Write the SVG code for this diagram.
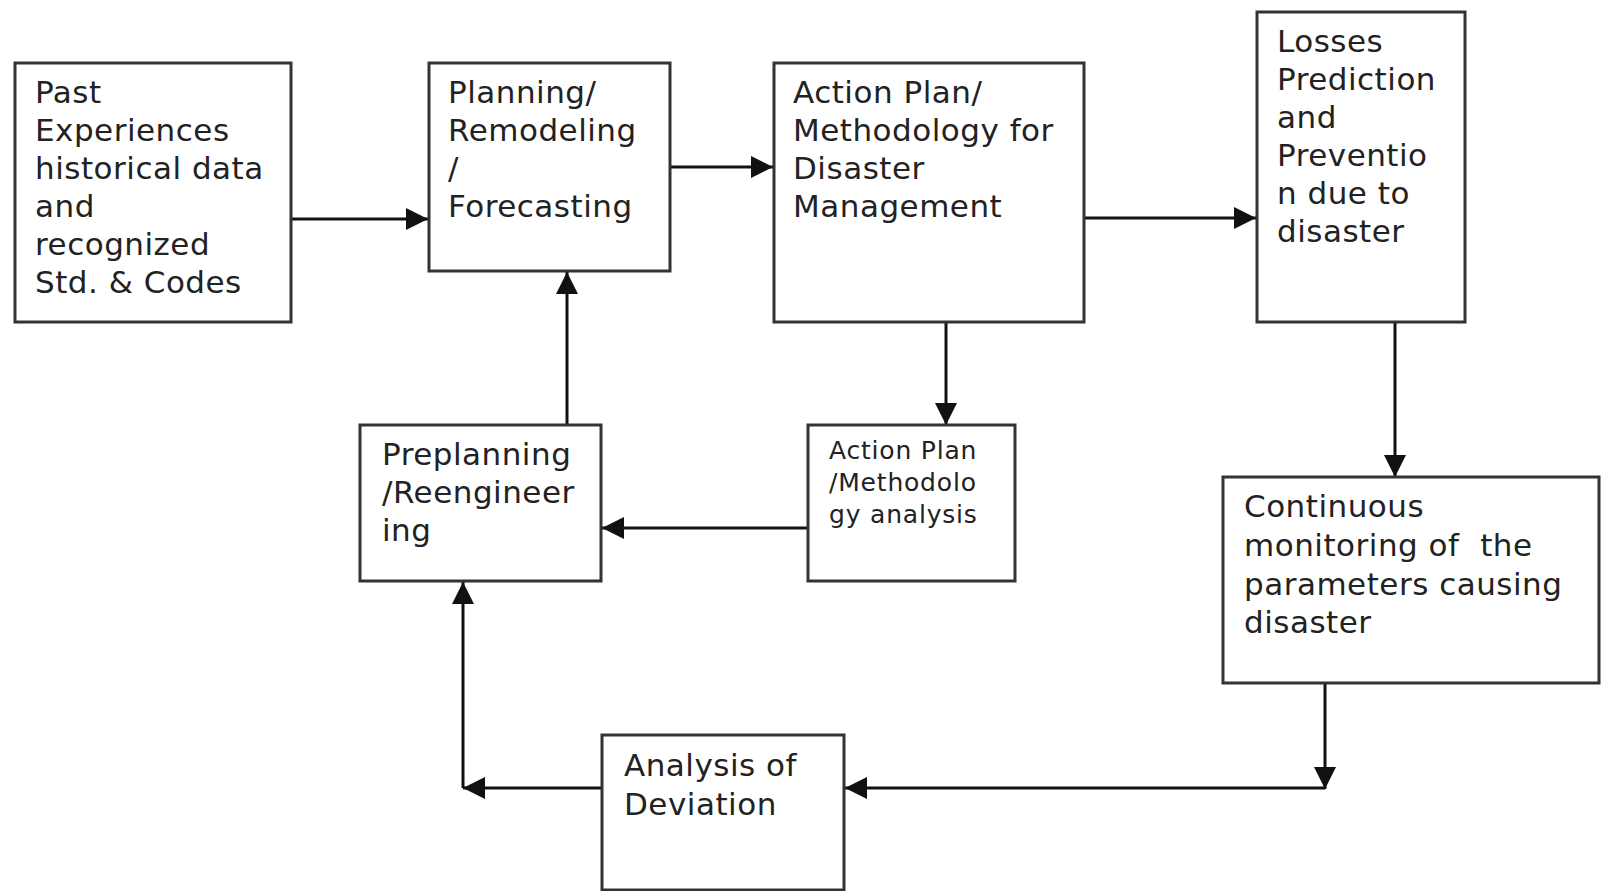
<svg xmlns="http://www.w3.org/2000/svg" width="1601" height="891" viewBox="0 0 1601 891">
<style>
.box{fill:#fff;stroke:#333;stroke-width:3}
.t{font-family:"DejaVu Sans",Verdana,sans-serif;font-size:31px;letter-spacing:0.5px;fill:#222}
.s{font-family:"DejaVu Sans",Verdana,sans-serif;font-size:25px;letter-spacing:0.8px;fill:#222}
.c{fill:none;stroke:#111;stroke-width:3}
</style>
<defs>
<marker id="ah" markerUnits="userSpaceOnUse" markerWidth="22" markerHeight="22" refX="22" refY="11" orient="auto" viewBox="0 0 22 22">
<path d="M0,0 L22,11 L0,22 z" fill="#111"/>
</marker>
</defs>
<rect width="1601" height="891" fill="#fff"/>
<g id="connectors">
<line class="c" x1="291" y1="219" x2="428" y2="219" marker-end="url(#ah)"/>
<line class="c" x1="670" y1="167" x2="773" y2="167" marker-end="url(#ah)"/>
<line class="c" x1="1084" y1="218" x2="1256" y2="218" marker-end="url(#ah)"/>
<line class="c" x1="946" y1="322" x2="946" y2="425" marker-end="url(#ah)"/>
<line class="c" x1="1395" y1="322" x2="1395" y2="477" marker-end="url(#ah)"/>
<line class="c" x1="808" y1="528" x2="602" y2="528" marker-end="url(#ah)"/>
<line class="c" x1="567" y1="425" x2="567" y2="272" marker-end="url(#ah)"/>
<line class="c" x1="1325" y1="683" x2="1325" y2="789" marker-end="url(#ah)"/>
<line class="c" x1="1325" y1="788" x2="845" y2="788" marker-end="url(#ah)"/>
<line class="c" x1="601" y1="788" x2="463" y2="788" marker-end="url(#ah)"/>
<line class="c" x1="463" y1="788" x2="463" y2="582" marker-end="url(#ah)"/>
</g>
<g id="past">
<rect class="box" x="15" y="63" width="276" height="259"/>
<text class="t" x="35" y="103">Past</text>
<text class="t" x="35" y="141">Experiences</text>
<text class="t" x="35" y="179">historical data</text>
<text class="t" x="35" y="217">and</text>
<text class="t" x="35" y="255">recognized</text>
<text class="t" x="35" y="293">Std. &amp; Codes</text>
</g>
<g id="planning">
<rect class="box" x="429" y="63" width="241" height="208"/>
<text class="t" x="448" y="103">Planning/</text>
<text class="t" x="448" y="141">Remodeling</text>
<text class="t" x="448" y="179">/</text>
<text class="t" x="448" y="217">Forecasting</text>
</g>
<g id="actionplan">
<rect class="box" x="774" y="63" width="310" height="259"/>
<text class="t" x="793" y="103">Action Plan/</text>
<text class="t" x="793" y="141">Methodology for</text>
<text class="t" x="793" y="179">Disaster</text>
<text class="t" x="793" y="217">Management</text>
</g>
<g id="losses">
<rect class="box" x="1257" y="12" width="208" height="310"/>
<text class="t" x="1277" y="52">Losses</text>
<text class="t" x="1277" y="90">Prediction</text>
<text class="t" x="1277" y="128">and</text>
<text class="t" x="1277" y="166">Preventio</text>
<text class="t" x="1277" y="204">n due to</text>
<text class="t" x="1277" y="242">disaster</text>
</g>
<g id="preplanning">
<rect class="box" x="360" y="425" width="241" height="156"/>
<text class="t" x="382" y="465">Preplanning</text>
<text class="t" x="382" y="503">/Reengineer</text>
<text class="t" x="382" y="541">ing</text>
</g>
<g id="analysis">
<rect class="box" x="808" y="425" width="207" height="156"/>
<text class="s" x="829" y="459">Action Plan</text>
<text class="s" x="829" y="491">/Methodolo</text>
<text class="s" x="829" y="523">gy analysis</text>
</g>
<g id="monitoring">
<rect class="box" x="1223" y="477" width="376" height="206"/>
<text class="t" x="1244" y="517">Continuous</text>
<text class="t" x="1244" y="556" xml:space="preserve">monitoring of  the</text>
<text class="t" x="1244" y="595">parameters causing</text>
<text class="t" x="1244" y="633">disaster</text>
</g>
<g id="deviation">
<rect class="box" x="602" y="735" width="242" height="155"/>
<text class="t" x="624" y="776">Analysis of</text>
<text class="t" x="624" y="815">Deviation</text>
</g>
</svg>
